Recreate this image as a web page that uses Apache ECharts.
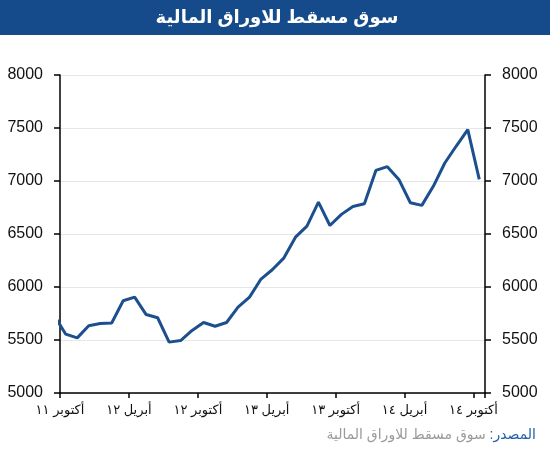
<!DOCTYPE html>
<html>
<head>
<meta charset="utf-8">
<script src="https://cdn.jsdelivr.net/npm/echarts@6/dist/echarts.min.js"></script>
<style>
  html, body { margin: 0; padding: 0; background: #fff; }
  #chart { width: 550px; height: 450px; }
</style>
</head>
<body>
<div id="chart"></div>
<script>
// monthly index, first value sits half a month before the axis start (clipped)
var msmValues = [
  5730,
  5555, 5520, 5635, 5655, 5660, 5870, 5905, 5740, 5710, 5480,
  5495, 5590, 5665, 5630, 5665, 5810, 5905, 6075, 6165, 6275,
  6470, 6575, 6800, 6580, 6685, 6760, 6785, 7100, 7135, 7015,
  6795, 6770, 6950, 7170, 7330, 7485, 7015
];
var tickLabels = ['أكتوبر ١١', 'أبريل ١٢', 'أكتوبر ١٢', 'أبريل ١٣', 'أكتوبر ١٣', 'أبريل ١٤', 'أكتوبر ١٤'];
var titleText = 'سوق مسقط للاوراق المالية';
var sourceLabel = ' :المصدر';
var sourceText = 'سوق مسقط للاوراق المالية';

var chart = echarts.init(document.getElementById('chart'));

var seriesData = msmValues.map(function (v, i) { return [i - 0.5, v]; });

var yAxisCommon = {
  type: 'value',
  min: 5000,
  max: 8000,
  interval: 500,
  axisLine: { show: true, lineStyle: { color: '#000', width: 1.5 } },
  axisTick: { show: true, length: 6, lineStyle: { color: '#000', width: 1.5 } },
  axisLabel: {
    margin: 17,
    color: '#111',
    fontSize: 16,
    fontFamily: 'Arial, "Liberation Sans", sans-serif',
    formatter: function (v) { return String(v); }
  }
};

var option = {
  animation: false,
  backgroundColor: '#fff',
  grid: { left: 60, right: 65, top: 75, bottom: 57, containLabel: false },
  graphic: [
    {
      type: 'rect',
      shape: { x: 0, y: 0, width: 550, height: 35 },
      style: { fill: '#164b8b' }
    },
    {
      type: 'text',
      x: 277, y: 18,
      style: {
        text: titleText,
        fill: '#fff',
        font: 'bold 18px Arial, "DejaVu Sans", sans-serif',
        textAlign: 'center',
        textVerticalAlign: 'middle'
      }
    },
    {
      type: 'text',
      right: 14, top: 428,
      style: {
        text: '{g|' + sourceText + '}{b|' + sourceLabel + '}',
        rich: {
          g: { fill: '#9a9a9a', fontSize: 14, fontFamily: 'Arial, "DejaVu Sans", sans-serif' },
          b: { fill: '#1f5fa8', fontSize: 14, fontFamily: 'Arial, "DejaVu Sans", sans-serif' }
        }
      }
    }
  ],
  xAxis: {
    type: 'value',
    min: 0,
    max: 37,
    interval: 6,
    axisLine: { show: true, onZero: false, lineStyle: { color: '#000', width: 1.5 } },
    axisTick: { show: true, length: 5, lineStyle: { color: '#000', width: 1.5 } },
    splitLine: { show: false },
    axisLabel: {
      margin: 11,
      color: '#111',
      fontSize: 13,
      fontFamily: 'Arial, "DejaVu Sans", sans-serif',
      formatter: function (v) {
        return v % 6 === 0 ? (tickLabels[v / 6] || '') : '';
      }
    }
  },
  yAxis: [
    Object.assign({}, yAxisCommon, {
      position: 'left',
      splitLine: { show: true, lineStyle: { color: '#e6e6e6', width: 1 } }
    }),
    Object.assign({}, yAxisCommon, {
      position: 'right',
      splitLine: { show: false }
    })
  ],
  series: [
    {
      type: 'line',
      yAxisIndex: 0,
      data: seriesData,
      showSymbol: false,
      clip: true,
      lineStyle: { color: '#1c4f8e', width: 3 }
    }
  ]
};

chart.setOption(option);
</script>
</body>
</html>
